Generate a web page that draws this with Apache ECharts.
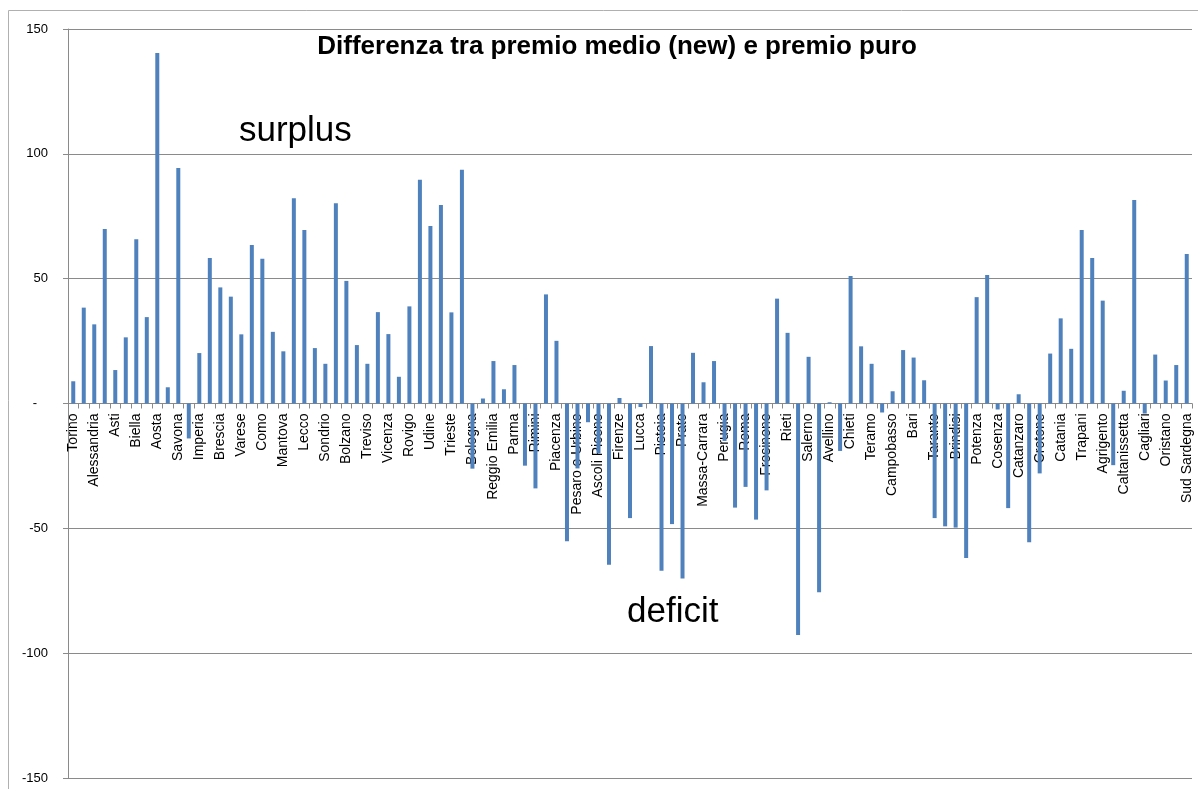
<!DOCTYPE html>
<html>
<head>
<meta charset="utf-8">
<script src="https://cdn.jsdelivr.net/npm/echarts@6/dist/echarts.min.js"></script>
<style>
  html, body { margin: 0; padding: 0; background: #fff; }
  #chart { width: 1198px; height: 789px; }
</style>
</head>
<body>
<div id="chart"></div>
<script>
// provinces (only every other label is shown on the axis)
const provinces = [
  'Torino', 'Vercelli', 'Alessandria', 'Novara', 'Asti', 'Cuneo', 'Biella', 'Verbano-Cusio-Ossola', 'Aosta', 'Genova',
  'Savona', 'La Spezia', 'Imperia', 'Milano', 'Brescia', 'Bergamo', 'Varese', 'Pavia', 'Como', 'Cremona',
  'Mantova', 'Lodi', 'Lecco', 'Monza e Brianza', 'Sondrio', 'Trento', 'Bolzano', 'Venezia', 'Treviso', 'Verona',
  'Vicenza', 'Padova', 'Rovigo', 'Belluno', 'Udine', 'Gorizia', 'Trieste', 'Pordenone', 'Bologna', 'Modena',
  'Reggio Emilia', 'Ferrara', 'Parma', 'Ravenna', 'Rimini', 'Forlì-Cesena', 'Piacenza', 'Ancona', 'Pesaro e Urbino', 'Macerata',
  'Ascoli Piceno', 'Fermo', 'Firenze', 'Livorno', 'Lucca', 'Pisa', 'Pistoia', 'Arezzo', 'Prato', 'Siena',
  'Massa-Carrara', 'Grosseto', 'Perugia', 'Terni', 'Roma', 'Latina', 'Frosinone', 'Viterbo', 'Rieti', 'Napoli',
  'Salerno', 'Caserta', 'Avellino', 'Benevento', 'Chieti', "L'Aquila", 'Teramo', 'Pescara', 'Campobasso', 'Isernia',
  'Bari', 'Foggia', 'Taranto', 'Lecce', 'Brindisi', 'Barletta-Andria-Trani', 'Potenza', 'Matera', 'Cosenza', 'Reggio Calabria',
  'Catanzaro', 'Vibo Valentia', 'Crotone', 'Palermo', 'Catania', 'Messina', 'Trapani', 'Siracusa', 'Agrigento', 'Ragusa',
  'Caltanissetta', 'Enna', 'Cagliari', 'Sassari', 'Oristano', 'Nuoro', 'Sud Sardegna'
];

// premio medio (new) - premio puro
const differenza = [
  8.9, 38.4, 31.7, 69.9, 13.4, 26.5, 65.8, 34.6, 140.4, 6.5,
  94.3, -14.0, 20.2, 58.3, 46.5, 42.8, 27.7, 63.5, 58.0, 28.7,
  20.9, 82.2, 69.5, 22.2, 15.9, 80.2, 49.1, 23.4, 15.9, 36.6,
  27.8, 10.7, 38.9, 89.6, 71.1, 79.5, 36.5, 93.6, -26.1, 2.0,
  17.0, 5.7, 15.4, -24.9, -34.0, 43.7, 25.1, -55.2, -26.0, -7.5,
  -20.0, -64.6, 2.2, -45.9, -1.4, 23.0, -67.0, -48.3, -70.1, 20.3,
  8.5, 17.0, -15.0, -41.7, -33.4, -46.5, -34.8, 42.0, 28.3, -92.7,
  18.7, -75.6, 0.5, -19.0, 51.1, 22.9, 15.9, -3.6, 4.9, 21.4,
  18.4, 9.3, -45.9, -49.2, -49.7, -61.9, 42.6, 51.5, -2.4, -41.9,
  3.7, -55.6, -28.0, 20.0, 34.1, 21.9, 69.5, 58.3, 41.2, -24.7,
  5.1, 81.5, -4.0, 19.6, 9.2, 15.4, 59.9
];

const yTicks = [-150, -100, -50, 0, 50, 100, 150];

const chart = echarts.init(document.getElementById('chart'));
const lineGray = '#8a8a8a';

// grid geometry, so the category axis can be moved up to the zero line
const gridTop = 29, gridBottom = 11;
const plotHeight = 789 - gridTop - gridBottom;
const yMin = yTicks[0], yMax = yTicks[yTicks.length - 1];
const zeroOffset = plotHeight * (0 - yMin) / (yMax - yMin);

chart.setOption({
  animation: false,
  textStyle: { fontFamily: 'Liberation Sans' },
  title: {
    text: 'Differenza tra premio medio (new) e premio puro',
    left: 612,
    top: 29,
    textAlign: 'center',
    textStyle: { fontSize: 26, fontWeight: 'bold', color: '#000', fontFamily: 'Liberation Sans' }
  },
  grid: { left: 68, right: 6, top: gridTop, bottom: gridBottom, containLabel: false, outerBoundsMode: 'none' },
  xAxis: {
    type: 'category',
    data: provinces,
    position: 'bottom',
    offset: -zeroOffset,
    boundaryGap: true,
    axisLine: { onZero: false, lineStyle: { color: lineGray, width: 1 } },
    axisTick: { show: true, interval: 0, length: 5, lineStyle: { color: lineGray } },
    axisLabel: {
      interval: 1,
      rotate: 90,
      margin: 10,
      fontSize: 14,
      color: '#000'
    },
    splitLine: { show: false }
  },
  yAxis: {
    type: 'value',
    min: yMin,
    max: yMax,
    interval: 50,
    axisLine: { show: true, lineStyle: { color: lineGray } },
    axisTick: { show: true, length: 5, lineStyle: { color: lineGray } },
    axisLabel: {
      fontSize: 13,
      color: '#000',
      margin: 20,
      formatter: v => (v === 0 ? '-   ' : String(v))
    },
    splitLine: { show: true, lineStyle: { color: lineGray, width: 1 } }
  },
  series: [{
    type: 'bar',
    data: differenza,
    barWidth: 4,
    itemStyle: { color: '#4f81bd' }
  }],
  graphic: [
    {
      type: 'rect',
      silent: true,
      shape: { x: 8.5, y: 10.5, width: 1200, height: 800 },
      style: { fill: 'none', stroke: '#b0b0b0', lineWidth: 1 }
    },
    {
      type: 'text',
      silent: true,
      style: { x: 239, y: 131, text: 'surplus', font: '35px "Liberation Sans"', fill: '#000', verticalAlign: 'middle' }
    },
    {
      type: 'text',
      silent: true,
      style: { x: 627, y: 612, text: 'deficit', font: '35px "Liberation Sans"', fill: '#000', verticalAlign: 'middle' }
    }
  ]
});

window.addEventListener('resize', function () {
  chart.resize();
});
</script>
</body>
</html>
